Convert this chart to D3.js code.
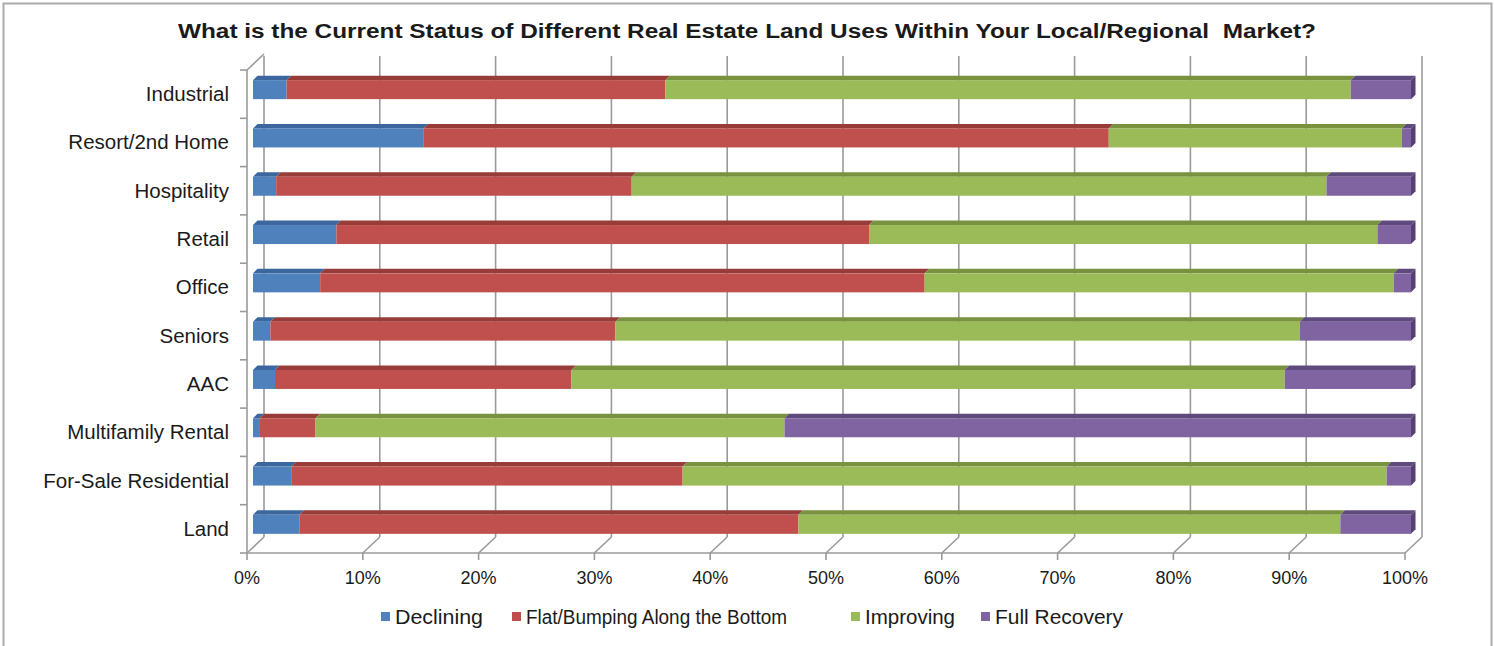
<!DOCTYPE html>
<html>
<head>
<meta charset="utf-8">
<script src="https://cdn.jsdelivr.net/npm/d3@7"></script>
<style>
  body { margin: 0; background: #fff; }
  text { font-family: "Liberation Sans", Arial, sans-serif; fill: #1a1a1a; }
</style>
</head>
<body>
<div id="chart_area"></div>
<script>
// data (percent of responses)
var categories = ["Industrial", "Resort/2nd Home", "Hospitality", "Retail", "Office",
    "Seniors", "AAC", "Multifamily Rental", "For-Sale Residential", "Land"];
var declining    = [2.9, 14.7, 2.0, 7.2, 5.8, 1.5, 1.9, 0.6, 3.3, 4.0];
var flat         = [32.7, 59.2, 30.7, 46.0, 52.2, 29.8, 25.6, 4.8, 33.8, 43.1];
var improving    = [59.2, 25.3, 60.0, 43.9, 40.5, 59.1, 61.6, 40.5, 60.8, 46.8];
var fullRecovery = [5.2, 0.8, 7.3, 2.9, 1.5, 9.6, 10.9, 54.1, 2.1, 6.1];
var seriesNames  = ["Declining", "Flat/Bumping Along the Bottom", "Improving", "Full Recovery"];
var tickValues   = [0, 10, 20, 30, 40, 50, 60, 70, 80, 90, 100];
var tickLabels   = ["0%", "10%", "20%", "30%", "40%", "50%", "60%", "70%", "80%", "90%", "100%"];

var W = 1494, H = 646;
var front = {colors: ["#4F81BD", "#C0504D", "#9BBB59", "#8064A2"]};
var tops  = ["#3B679E", "#973C39", "#78923F", "#5F4A7E"];
var sides = ["#355D8E", "#8A3532", "#6D853A", "#553F73"];

var svg = d3.select("#chart_area")
    .append("svg")
    .attr("width", W)
    .attr("height", H);

// outer frame
svg.append("rect")
    .attr("x", 3.5).attr("y", 3.5)
    .attr("width", 1488).attr("height", 700)
    .attr("fill", "none")
    .attr("stroke", "#ababab")
    .attr("stroke-width", 2);

// title (the original is set wide, so stretch it to the same length)
svg.append("text")
    .attr("x", 178)
    .attr("y", 38)
    .attr("font-size", 20)
    .attr("font-weight", "bold")
    .attr("textLength", 1138)
    .attr("lengthAdjust", "spacingAndGlyphs")
    .style("white-space", "pre")
    .text("What is the Current Status of Different Real Estate Land Uses Within Your Local/Regional  Market?");

// scales
var axisBottom = 553, axisTop = 70;
var depth = {x: 17, y: -16};          // floor / wall depth
var x = d3.scaleLinear().domain([0, 100]).range([247, 1405]);
var y = d3.scaleBand().domain(categories).range([axisTop, axisBottom]);

var grid = svg.append("g")
    .attr("stroke", "#9a9a9a")
    .attr("stroke-width", 1.6)
    .attr("fill", "none");

// back wall gridlines + floor diagonals
tickValues.forEach(function(v) {
    grid.append("line")
        .attr("x1", x(v) + depth.x).attr("x2", x(v) + depth.x)
        .attr("y1", axisBottom + depth.y).attr("y2", 56);
    grid.append("line")
        .attr("x1", x(v)).attr("y1", axisBottom)
        .attr("x2", x(v) + depth.x).attr("y2", axisBottom + depth.y);
    grid.append("line")
        .attr("x1", x(v)).attr("x2", x(v))
        .attr("y1", axisBottom).attr("y2", axisBottom + 7);
});

// left wall edge and axes
grid.append("line")
    .attr("x1", x(0)).attr("y1", axisTop)
    .attr("x2", x(0) + depth.x).attr("y2", axisTop + depth.y);
grid.append("line")
    .attr("x1", x(0)).attr("x2", x(0))
    .attr("y1", axisTop).attr("y2", axisBottom);
grid.append("line")
    .attr("x1", x(0)).attr("x2", x(100))
    .attr("y1", axisBottom).attr("y2", axisBottom);

var yTicks = categories.map(function(c) { return y(c); }).concat([axisBottom]);
yTicks.forEach(function(t) {
    grid.append("line")
        .attr("x1", x(0) - 7).attr("x2", x(0))
        .attr("y1", t).attr("y2", t);
});

// x labels
svg.selectAll("text.xlab")
    .data(tickValues)
    .enter()
    .append("text")
    .attr("class", "xlab")
    .attr("x", function(d) { return x(d); })
    .attr("y", 584)
    .attr("text-anchor", "middle")
    .attr("font-size", 18)
    .text(function(d, i) { return tickLabels[i]; });

// category labels
svg.selectAll("text.ylab")
    .data(categories)
    .enter()
    .append("text")
    .attr("class", "ylab")
    .attr("x", 229)
    .attr("y", function(d) { return y(d) + y.bandwidth() / 2 + 7; })
    .attr("text-anchor", "end")
    .attr("font-size", 20.5)
    .text(function(d) { return d; });

// stacked 3D bars
var table = categories.map(function(c, i) {
    return {cat: c, Declining: declining[i], "Flat/Bumping Along the Bottom": flat[i],
        Improving: improving[i], "Full Recovery": fullRecovery[i]};
});
var stacked = d3.stack().keys(seriesNames)(table);

var shift = 6;          // bar front face sits a bit into the depth
var bd = 4.5;           // bar depth
var barH = 19;

var bars = svg.append("g");
stacked.forEach(function(layer, s) {
    layer.forEach(function(seg) {
        var d = seg.data;
        var x0 = x(seg[0]) + shift, x1 = x(seg[1]) + shift;
        var y0 = y(d.cat) + y.bandwidth() / 2 - 4.5 - barH / 2;
        if (x1 - x0 <= 0) return;
        bars.append("polygon")
            .attr("points", [[x0, y0], [x1, y0], [x1 + bd, y0 - bd], [x0 + bd, y0 - bd]].join(" "))
            .attr("fill", tops[s]);
        bars.append("rect")
            .attr("x", x0).attr("y", y0)
            .attr("width", x1 - x0).attr("height", barH)
            .attr("fill", front.colors[s]);
        if (s === seriesNames.length - 1) {
            bars.append("polygon")
                .attr("points", [[x1, y0], [x1 + bd, y0 - bd], [x1 + bd, y0 + barH - bd], [x1, y0 + barH]].join(" "))
                .attr("fill", sides[s]);
        }
    });
});

// legend
var legendX = [381, 512, 851, 981];
var legendLen = [88, 261, 90, 128];
var legend = svg.selectAll("g.legend")
    .data(seriesNames)
    .enter()
    .append("g")
    .attr("class", "legend")
    .attr("transform", function(d, i) { return "translate(" + legendX[i] + ",617)"; });
legend.append("rect")
    .attr("x", 0).attr("y", -5)
    .attr("width", 9).attr("height", 9)
    .attr("fill", function(d, i) { return front.colors[i]; });
legend.append("text")
    .attr("x", 14)
    .attr("y", 7)
    .attr("font-size", 20)
    .attr("textLength", function(d, i) { return legendLen[i]; })
    .attr("lengthAdjust", "spacingAndGlyphs")
    .text(function(d) { return d; });
</script>
</body>
</html>
